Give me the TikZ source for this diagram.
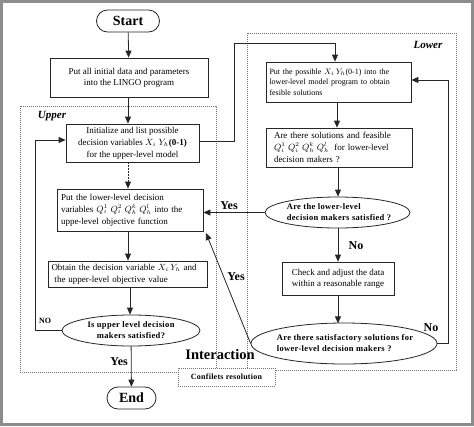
\documentclass[tikz,border=0pt]{standalone}
\usepackage{fontspec}
\setmainfont{Liberation Serif}
\usetikzlibrary{arrows.meta,shapes.geometric}
\begin{document}
\begin{tikzpicture}[x=1pt,y=-1pt,
  line width=0.8pt, draw=black!85,
  arr/.style={-{Triangle[length=7pt,width=6pt]}},
  box/.style={draw, line width=0.8pt, rectangle, inner sep=0pt, font=\fontsize{9}{12}\selectfont},
  term/.style={draw, line width=0.8pt, rounded corners=11pt, inner sep=0pt, font=\fontsize{14}{16}\bfseries\selectfont},
  oval/.style={draw, line width=0.8pt, ellipse, inner sep=0pt},
  ovtext/.style={font=\fontsize{8.5}{11}\bfseries\addfontfeature{LetterSpace=4}\selectfont, inner sep=0pt},
  frame/.style={draw=black!55, line width=0.6pt, dash pattern=on 0.8pt off 1.2pt},
  lab/.style={font=\fontsize{12}{14}\bfseries\selectfont, inner sep=0pt},
  title/.style={font=\fontsize{11}{13}\bfseries\itshape\selectfont, inner sep=0pt}]
\useasboundingbox (0,0) rectangle (474,426);
\draw[draw=black!45, line width=3pt] (1.5,1.5) rectangle (472.5,424.5);

% frames
\draw[frame] (20,106) rectangle (216,372);
\draw[frame] (247,33) rectangle (456,370);
\node[title] (upl) at (52,116) {Upper};
\node[title] (lol) at (428,45) {Lower};

% upper side
\node[term, minimum width=63pt, minimum height=22pt] (start) at (128,21) {Start};
\node[box, minimum width=158pt, minimum height=39pt, align=center, font=\fontsize{9}{11}\selectfont] (b1) at (129,77.5)
  {Put all initial data and parameters\\into the LINGO program};
\node[box, minimum width=133pt, minimum height=38pt, align=center] (b2) at (132.5,143)
  {Initialize and list possible\\decision variables $X_i\;Y_h$\textbf{(0-1)}\\for the upper-level model};
\node[box, minimum width=146pt, minimum height=42pt, text width=138pt, align=left] (b3) at (130,210)
  {Put the lower-level decision\\variables $Q_i^1\;Q_i^2\;Q_h^k\;Q_h^l$ into the\\uppe-level objective function};
\node[box, minimum width=159pt, minimum height=26pt, text width=152pt, align=left] (b4) at (127.5,274)
  {Obtain the decision variable $X_i\,Y_h$ and\\\ the upper-level objective value};
\node[oval, minimum width=138pt, minimum height=31pt] (e1) at (131,330.5) {};
\node[ovtext, align=center] (e1t) at (131,330.5) {Is upper level decision\\makers satisfied?};
\node[term, minimum width=49pt, minimum height=22pt] (end) at (131.5,398) {End};

% lower side
\node[box, minimum width=145pt, minimum height=40pt, text width=138pt, align=left,
  font=\fontsize{8}{10.5}\selectfont] (b5) at (338.5,82)
  {Put the possible $X_i\,Y_h$(0-1) into the\\lower-level model program to obtain\\fesible solutions};
\node[box, minimum width=146pt, minimum height=39pt, text width=130pt, align=left] (b6) at (339,147.5)
  {Are there solutions and feasible\\$Q_i^1\;Q_i^2\;Q_h^k\;Q_h^l$\; for lower-level\\decision makers ?};
\node[oval, minimum width=145pt, minimum height=31pt] (e2) at (337.5,212.5) {};
\node[ovtext, align=left] (e2t) at (339,212.5) {Are the lower-level\\decision makers satisfied ?};
\node[box, minimum width=112pt, minimum height=33pt, align=center, font=\fontsize{9}{11}\selectfont] (b7) at (338,278.5)
  {Check and adjust the data\\within a reasonable range};
\node[oval, minimum width=186pt, minimum height=41pt] (e3) at (344,343.5) {};
\node[ovtext, align=left] (e3t) at (345,343.5) {Are there satisfactory solutions for\\lower-level decision makers ?};

% middle labels
\node[font=\fontsize{14.5}{16}\bfseries\selectfont, inner sep=0pt] (inter) at (220,355) {Interaction};
\node[frame, fill=white, minimum width=97pt, minimum height=18pt, inner sep=0pt,
  font=\fontsize{8}{10}\bfseries\addfontfeature{LetterSpace=3}\selectfont] (conf) at (226.5,377) {Confilets resolution};

% coordinates
\coordinate (nob) at (35,330.5);
\coordinate (noa) at (35,140);
\coordinate (r1) at (234,141);
\coordinate (r2) at (234,43);
\coordinate (r3) at (335,43);
\coordinate (lo1) at (448,343.5);
\coordinate (lo2) at (448,80);
\coordinate (ytip) at (206,233);
\coordinate (e3top) at (338,323.4);

% connectors
\draw[arr] (start) -- (b1);
\draw[arr] (b1.south -| 128,0) -- (b2.north -| 128,0);
\draw[arr, dash pattern=on 1.5pt off 1.5pt] (b2.south -| 128,0) -- (b3.north -| 128,0);
\draw[arr] (b3.south -| 128,0) -- (b4.north -| 128,0);
\draw[arr] (b4.south -| 130,0) -- (e1.north -| 130,0);
\draw[arr] (e1) -- (end) node[pos=0.37, left=3pt, lab] (y1) {Yes};
\draw[arr] (e1.west) -- (nob) -- (noa) -- (b2.west |- noa);
\node[font=\fontsize{8}{10}\bfseries\selectfont, inner sep=0pt] (nol) at (45,321) {NO};
\draw[arr] (b2.east |- r1) -- (r1) -- (r2) -- (r3) -- (b5.north -| r3);
\draw[arr] (b5.south -| 337,0) -- (b6.north -| 337,0);
\draw[arr] (b6.south -| 338,0) -- (e2.north -| 338,0);
\draw[arr] (e2.west) -- (b3.east |- e2.west);
\node[lab] (y2) at (229,206) {Yes};
\draw[arr] (e2.south -| 338,0) -- (b7.north -| 338,0);
\node[lab] (n2) at (356,246) {No};
\draw[arr] (b7.south -| e3top) -- (e3top);
\draw[arr] (e3.east) -- (lo1) -- (lo2) -- (b5.east |- lo2);
\node[lab] (n3) at (431,328) {No};
\draw[arr] (e3.west) -- (ytip);
\node[lab] (y3) at (236,277) {Yes};
\end{tikzpicture}
\end{document}
